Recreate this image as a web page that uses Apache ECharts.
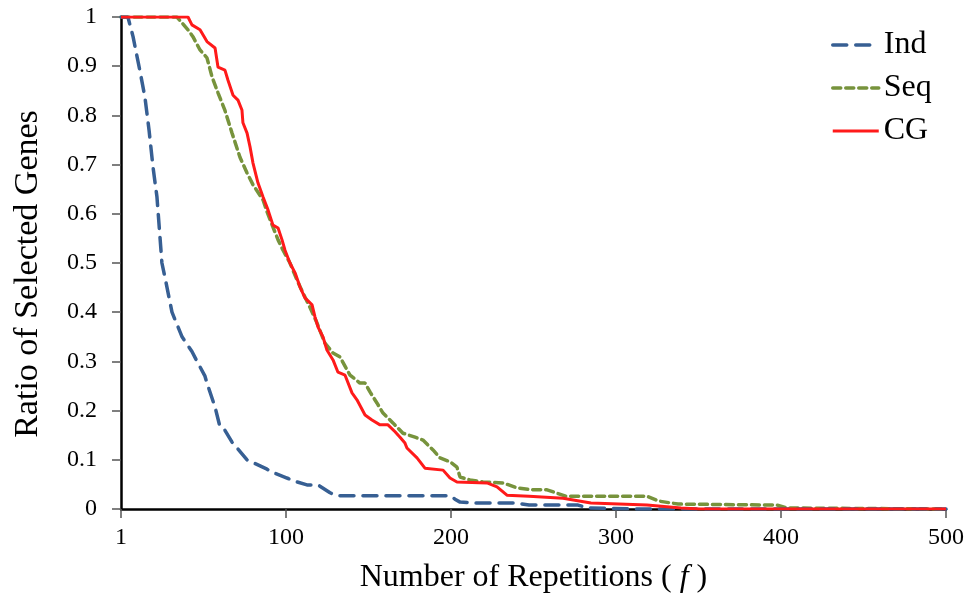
<!DOCTYPE html>
<html>
<head>
<meta charset="utf-8">
<script src="https://cdn.jsdelivr.net/npm/echarts@6/dist/echarts.min.js"></script>
<style>
  html, body { margin: 0; padding: 0; background: #fff; }
  #chart { width: 970px; height: 594px; }
</style>
</head>
<body>
<div id="chart"></div>
<script>
// x is measured on the axis: 0 is shown as "1", then 100..500
const xTicks = [0, 100, 200, 300, 400, 500];

const indData = [
  [0, 1], [4.2, 1], [7.3, 0.96], [11.5, 0.89], [14.5, 0.837], [17, 0.77],
  [19.4, 0.695], [21.8, 0.634], [24.8, 0.5], [26.7, 0.47], [30.9, 0.4],
  [37, 0.35], [43, 0.32], [46.1, 0.3], [50.9, 0.27], [52.1, 0.256],
  [57, 0.207], [60, 0.167], [63, 0.16], [67.3, 0.136], [76.4, 0.1],
  [88.5, 0.081], [91.5, 0.075], [100.6, 0.063], [106.7, 0.055],
  [112.7, 0.049], [119.4, 0.049], [126.7, 0.033], [130.9, 0.027],
  [199.4, 0.027], [202.4, 0.02], [205.5, 0.014], [215.8, 0.012],
  [239.4, 0.012], [247.3, 0.008], [277, 0.008], [283, 0.002], [311, 0],
  [500, 0]
];

const seqData = [
  [0, 1], [33.9, 1], [40.6, 0.974], [43.6, 0.96], [47.9, 0.933],
  [52.1, 0.917], [55.2, 0.878], [58.8, 0.846], [63, 0.81], [67.3, 0.764],
  [72.1, 0.715], [76.4, 0.683], [80, 0.659], [86.1, 0.628], [88.5, 0.604],
  [92.1, 0.573], [95.2, 0.547], [98.2, 0.526], [102.4, 0.5], [106.7, 0.465],
  [110.3, 0.439], [114.5, 0.41], [118.8, 0.378], [123.6, 0.337],
  [128.5, 0.317], [132.7, 0.309], [138.8, 0.272], [144.8, 0.256],
  [147.9, 0.256], [150.9, 0.238], [155.2, 0.215], [158.8, 0.195],
  [164.8, 0.175], [170.9, 0.154], [178.2, 0.146], [183, 0.14],
  [189.1, 0.12], [193.3, 0.104], [199.4, 0.096], [203.6, 0.085],
  [205.5, 0.065], [211.5, 0.059], [219.4, 0.055], [231.5, 0.053],
  [240, 0.043], [249.7, 0.039], [258.2, 0.039], [269.7, 0.026],
  [318.8, 0.026], [326.1, 0.016], [337.6, 0.01], [397.6, 0.008],
  [403.6, 0.002], [450, 0.001], [500, 0]
];

const cgData = [
  [0, 1], [40.6, 1], [43, 0.984], [47.9, 0.974], [52.1, 0.95], [57, 0.937],
  [58.8, 0.898], [63, 0.892], [64.8, 0.872], [67.9, 0.841], [70.9, 0.831],
  [73.3, 0.811], [73.9, 0.785], [76.4, 0.764], [78.2, 0.736], [80, 0.703],
  [83, 0.663], [86.1, 0.634], [89.1, 0.608], [92.1, 0.577], [95.2, 0.571],
  [97.6, 0.547], [99.4, 0.526], [102.4, 0.5], [105.5, 0.48], [108.5, 0.451],
  [111.5, 0.429], [115.8, 0.415], [117.6, 0.39], [119.4, 0.37],
  [122.4, 0.35], [124.8, 0.323], [128.5, 0.303], [131.5, 0.278],
  [135.8, 0.272], [140, 0.236], [143, 0.222], [147.9, 0.191], [152.1, 0.181],
  [157, 0.171], [161.8, 0.171], [166.1, 0.157], [169.1, 0.146],
  [172.1, 0.134], [173.3, 0.124], [179.4, 0.104], [184.2, 0.083],
  [195.2, 0.079], [199.4, 0.063], [203.6, 0.055], [221.8, 0.053],
  [227.9, 0.045], [233.9, 0.028], [247.3, 0.026], [267.9, 0.022],
  [284.8, 0.012], [318.8, 0.008], [339.4, 0.002], [350.9, 0], [500, 0]
];

const serif = 'Liberation Serif, Times New Roman, serif';
const indStyle = { color: '#375f93', width: 3.5, type: [14, 9], cap: 'round' };
const seqStyle = { color: '#77933c', width: 3.5, type: [8, 5], cap: 'round' };
const cgStyle = { color: '#ff1a1a', width: 3 };

let chart = echarts.init(document.getElementById('chart'));
chart.setOption({
  animation: false,
  grid: { left: 121, right: 24, top: 17, bottom: 85, outerBoundsMode: 'none', containLabel: false },
  legend: {
    orient: 'vertical',
    left: 826,
    top: 24,
    itemWidth: 46,
    itemHeight: 14,
    itemGap: 11,
    textStyle: { fontFamily: serif, fontSize: 32, color: '#000' },
    itemStyle: { opacity: 0 },
    data: [
      { name: 'Ind', lineStyle: indStyle, itemStyle: { opacity: 0 } },
      { name: 'Seq', lineStyle: seqStyle, itemStyle: { opacity: 0 } },
      { name: 'CG', lineStyle: cgStyle, itemStyle: { opacity: 0 } }
    ]
  },
  xAxis: {
    type: 'value',
    min: 0,
    max: 500,
    interval: 100,
    name: 'Number of Repetitions ( {i|f} )',
    nameLocation: 'middle',
    nameGap: 53,
    nameTextStyle: {
      fontFamily: serif, fontSize: 32, color: '#000',
      rich: { i: { fontFamily: serif, fontSize: 32, fontStyle: 'italic', color: '#000' } }
    },
    axisLine: { lineStyle: { color: '#000', width: 2.5 } },
    axisTick: { show: true, length: 9, lineStyle: { color: '#555', width: 1.5 } },
    axisLabel: {
      margin: 17,
      fontFamily: serif, fontSize: 24, color: '#000',
      formatter: v => (v === xTicks[0] ? '1' : String(v))
    },
    splitLine: { show: false }
  },
  yAxis: {
    type: 'value',
    min: 0,
    max: 1,
    interval: 0.1,
    name: 'Ratio of Selected Genes',
    nameLocation: 'middle',
    nameGap: 76,
    nameTextStyle: { fontFamily: serif, fontSize: 34, color: '#000', padding: [0, 22, 0, 0] },
    axisLine: { show: true, lineStyle: { color: '#000', width: 2.5 } },
    axisTick: { show: true, length: 9, lineStyle: { color: '#555', width: 1.5 } },
    axisLabel: { margin: 24, fontFamily: serif, fontSize: 24, color: '#000' },
    splitLine: { show: false }
  },
  series: [
    {
      name: 'Ind', type: 'line', data: indData, symbol: 'none',
      lineStyle: indStyle, itemStyle: { color: indStyle.color }, z: 3
    },
    {
      name: 'Seq', type: 'line', data: seqData, symbol: 'none',
      lineStyle: seqStyle, itemStyle: { color: seqStyle.color }, z: 2
    },
    {
      name: 'CG', type: 'line', data: cgData, symbol: 'none',
      lineStyle: cgStyle, itemStyle: { color: cgStyle.color }, z: 4
    }
  ]
});
</script>
</body>
</html>
